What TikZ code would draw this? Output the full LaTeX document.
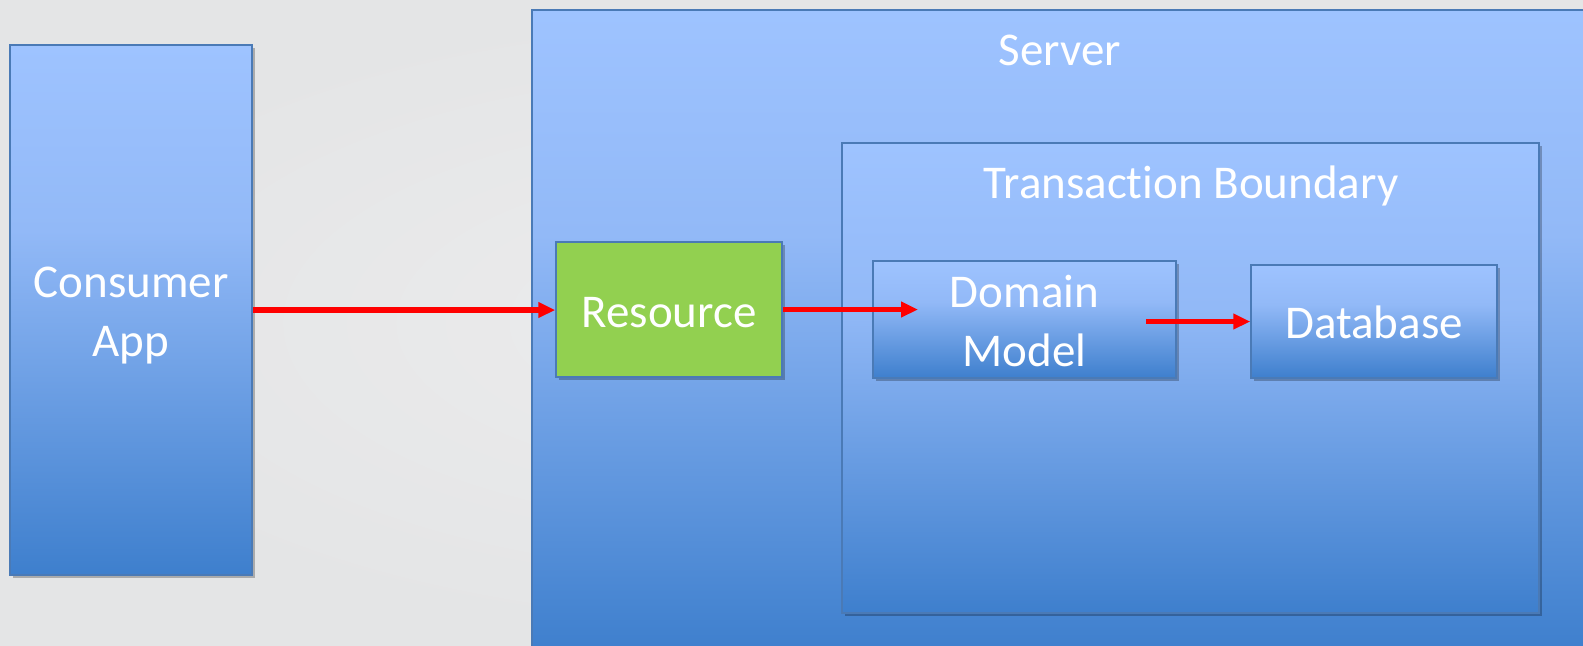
\documentclass[tikz,border=0pt]{standalone}
\usepackage{fontspec}
\setmainfont{Carlito}[Ligatures=NoCommon]
\usetikzlibrary{arrows.meta,shadows}

\definecolor{btop}{RGB}{158,195,255}
\definecolor{bmid}{RGB}{146,185,247}
\definecolor{bbot}{RGB}{62,127,205}
\definecolor{bedge}{RGB}{74,122,182}
\definecolor{resgreen}{RGB}{146,208,80}
\definecolor{arrowred}{RGB}{255,0,0}
\definecolor{bginner}{RGB}{236,236,237}
\definecolor{bgouter}{RGB}{228,229,230}

% light-to-dark blue fill used by every blue box
\pgfdeclareverticalshading{boxgrad}{100bp}{color(0bp)=(bbot); color(25bp)=(bbot); color(57.5bp)=(bmid); color(75bp)=(btop); color(100bp)=(btop)}

% box text, set a little lower than its geometric centre
\newcommand{\boxtext}[2][2pt]{\raisebox{-#1}[\height][\depth]{\begin{tabular}{@{}c@{}}#2\end{tabular}}}

\tikzset{
  boxbase/.style={rectangle, draw=bedge, line width=0.75pt,
    inner sep=0pt, text=white, align=center,
    font=\fontsize{23.5}{29.3}\selectfont,
    drop shadow={shadow xshift=1.5pt, shadow yshift=-1.5pt, opacity=0.25, fill=black}},
  box/.style={boxbase, shading=boxgrad},
  greenbox/.style={boxbase, fill=resgreen},
  title/.style={text=white, inner sep=0pt, font=\fontsize{23.5}{29.3}\selectfont},
  conn/.style={draw=arrowred, line width=2.6pt, -{Triangle[length=8.5pt,width=7.5pt]}}
}

\begin{document}
\begin{tikzpicture}[x=0.5pt,y=-0.5pt]
  \useasboundingbox (0,0) rectangle (1583,645);
  \clip (0,0) rectangle (1583,645);
  \shade[inner color=bginner, outer color=bgouter] (0,0) rectangle (1583,645);

  % client side
  \node[box, minimum width=121pt, minimum height=265pt] (consumer) at (131,310) {\boxtext[2.6pt]{Consumer\\App}};

  % server and its transaction boundary
  \node[box, minimum width=529pt, minimum height=321pt] (server) at (1061,331) {};
  \node[title] (servertitle) at (1060,50) {Server};
  \node[box, minimum width=348.5pt, minimum height=235pt] (txn) at (1190.5,378) {};
  \node[title] (txntitle) at (1191,186) {Transaction Boundary};

  % components
  \node[greenbox, minimum width=113pt, minimum height=67.5pt] (resource) at (669,309.5) {\boxtext[3pt]{Resource}};
  \node[box, minimum width=151.5pt, minimum height=58.5pt] (domain) at (1024.5,319.5) {\boxtext[3pt]{Domain\\Model}};
  \node[box, minimum width=123pt, minimum height=56.5pt] (database) at (1374,321.5) {\boxtext[2.8pt]{Database}};

  % request flow
  \coordinate (domainin) at (918,309.5);
  \coordinate (domainout) at (1146,321.5);
  \draw[conn] (consumer.east) -- (consumer.east -| resource.west);
  \draw[conn] (resource.east) -- (domainin);
  \draw[conn] (domainout) -- (database.west);
\end{tikzpicture}
\end{document}
